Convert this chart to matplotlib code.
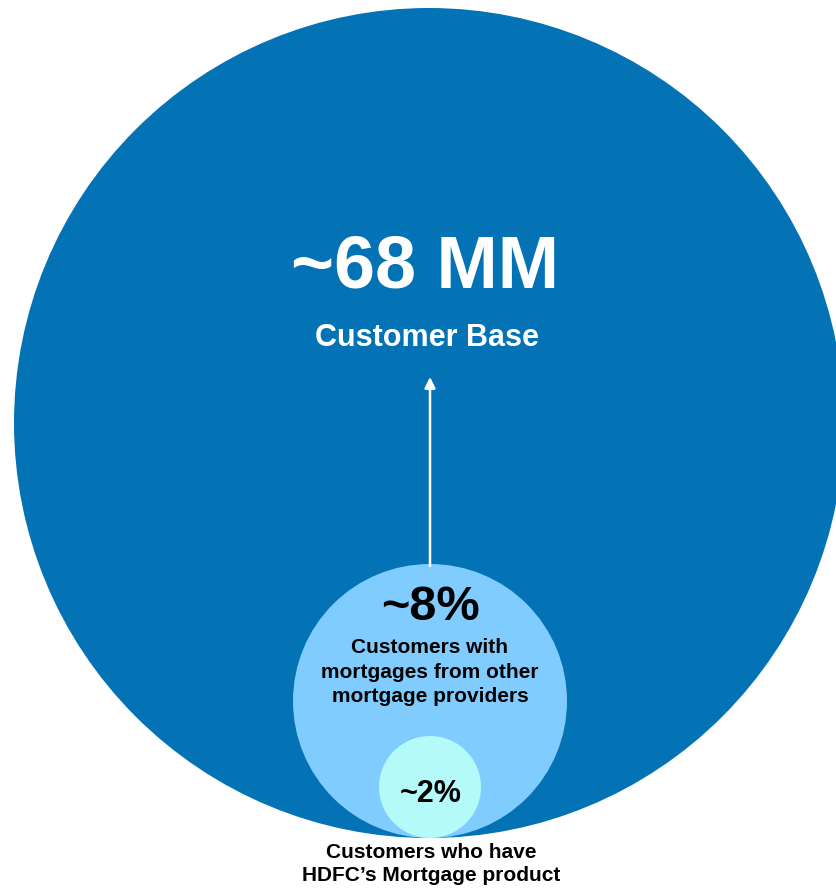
import matplotlib.pyplot as plt
from matplotlib.patches import Circle

plt.rcParams['font.family'] = ['Liberation Sans', 'DejaVu Sans']

# nested customer segments, outermost first
segments = ["Customer Base",
            "Customers with\nmortgages from other\nmortgage providers",
            "Customers who have\nHDFC\u2019s Mortgage product"]
values = ["~68 MM", "~8%", "~2%"]
colors = ["#0473B5", "#80CCFE", "#B4FAF8"]

# layout in pixels (y grows downward)
W, H = 837, 889
centers = [(429, 423), (430, 701), (430, 787)]
radii = [415, 137, 51]

fig = plt.figure(figsize=(W / 100, H / 100), dpi=100)
ax = fig.add_axes([0, 0, 1, 1])
ax.set_xlim(0, W)
ax.set_ylim(H, 0)
ax.axis('off')

for c, r, col in zip(centers, radii, colors):
    ax.add_patch(Circle(c, r, facecolor=col, edgecolor='none'))

# outer circle labels
ax.text(425, 268, values[0], ha='center', va='center', color='white',
        fontsize=53, fontweight='bold')
ax.text(427, 338, segments[0], ha='center', va='center', color='white',
        fontsize=22, fontweight='bold')

# arrow from the middle circle up to the customer base label
ax.annotate('', xy=(430, 377), xytext=(430, 566),
            arrowprops=dict(arrowstyle='-|>', color='white', lw=1.8,
                            mutation_scale=16, shrinkA=0, shrinkB=0))

# middle circle labels
ax.text(430, 607, values[1], ha='center', va='center', color='black',
        fontsize=35, fontweight='bold')
ax.text(430, 672, segments[1], ha='center', va='center', color='black',
        fontsize=15, fontweight='bold', linespacing=1.36)

# inner circle
ax.text(431, 794, values[2], ha='center', va='center', color='black',
        fontsize=22, fontweight='bold')
ax.text(431, 864, segments[2], ha='center', va='center', color='black',
        fontsize=15, fontweight='bold', linespacing=1.28)

fig.savefig('out.png', dpi=100)
